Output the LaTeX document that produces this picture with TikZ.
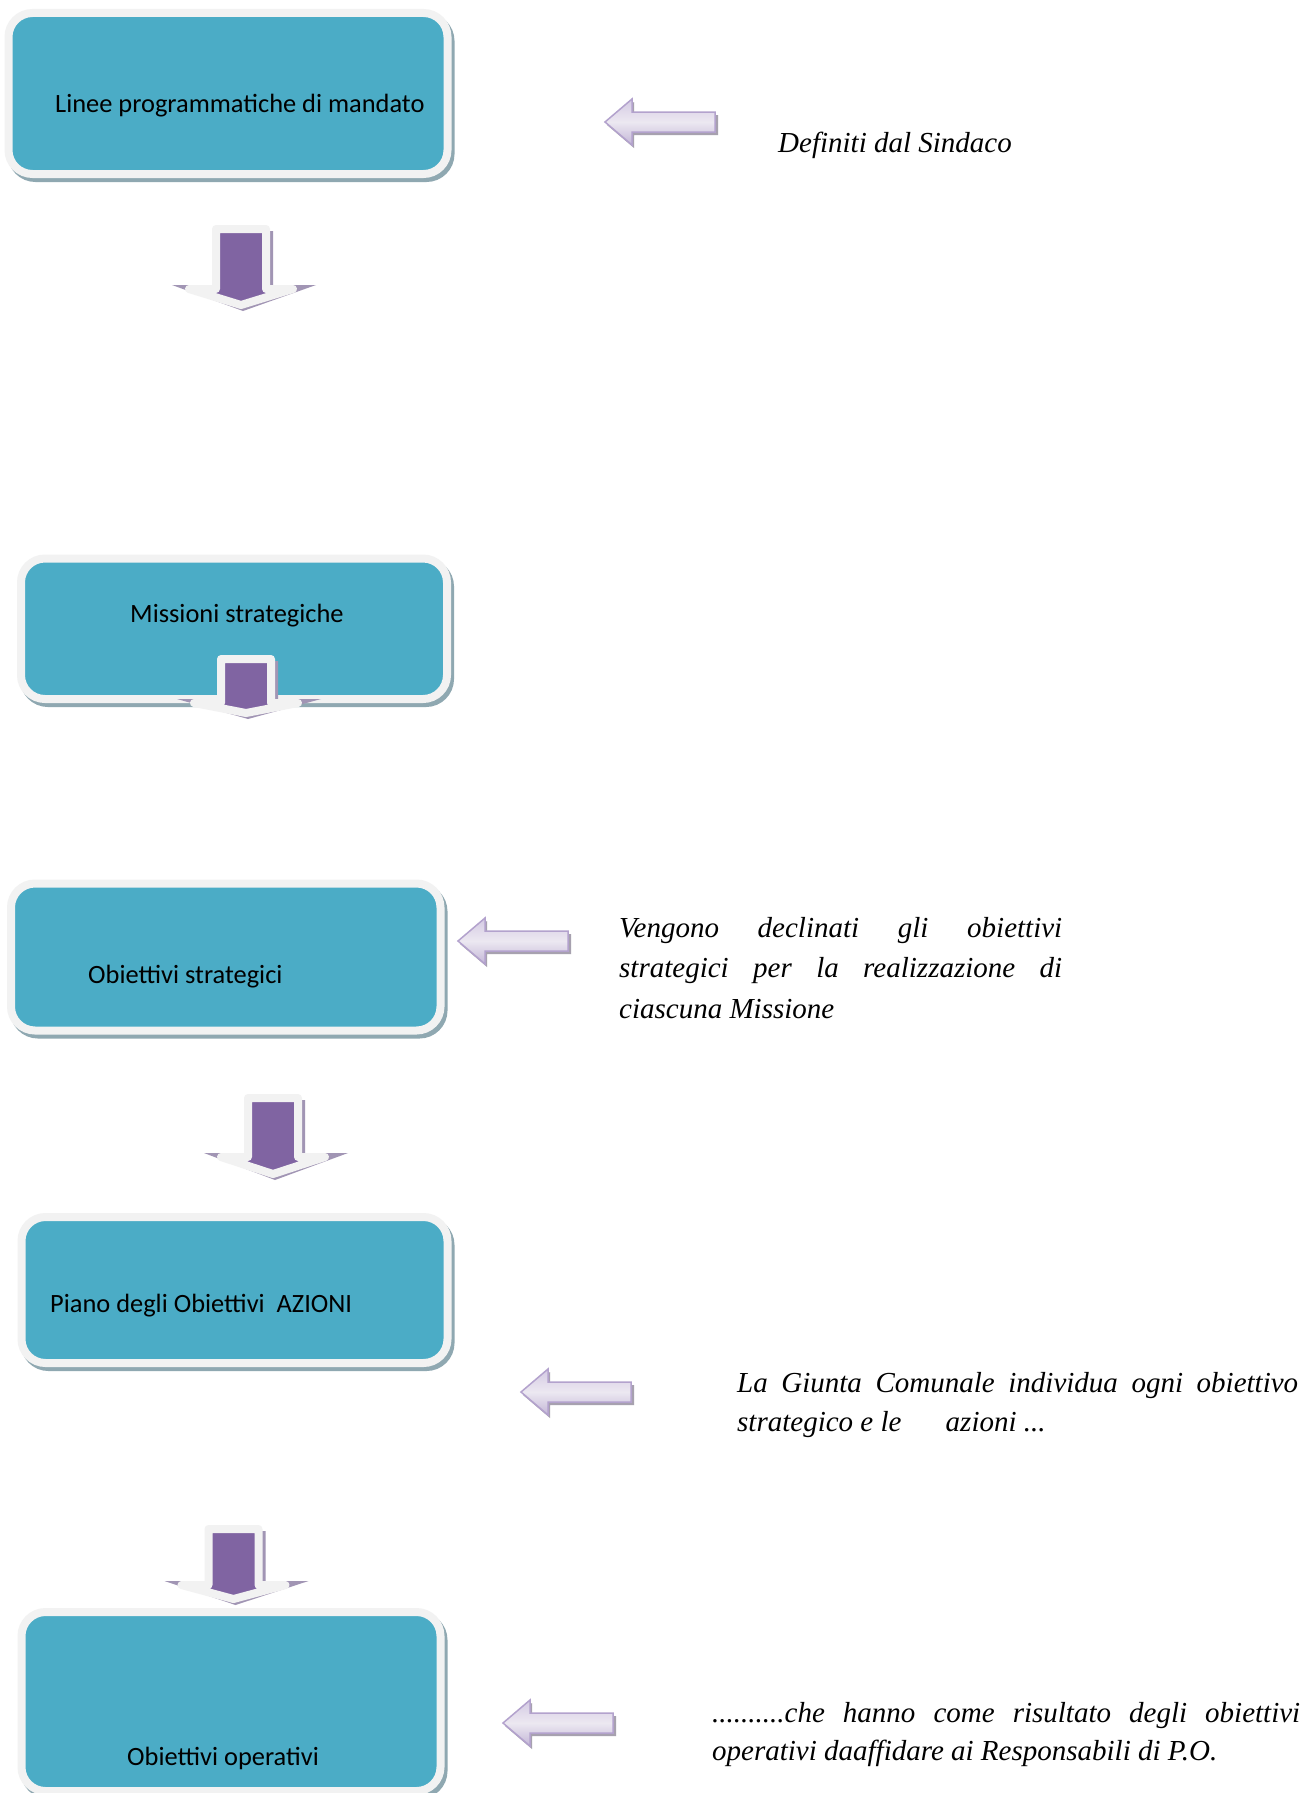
\documentclass[tikz,border=0pt]{standalone}
\usepackage{fontspec}
\setmainfont{Liberation Serif}
\newfontfamily\notefont{Liberation Serif}
\newfontfamily\boxfont{Carlito}
\definecolor{teal5}{HTML}{4BACC6}
\definecolor{rim}{HTML}{F2F2F2}
\definecolor{boxshadow}{HTML}{8FA8B1}
\definecolor{arrpurple}{HTML}{8064A2}
\definecolor{arrshadow}{HTML}{A195B4}
\definecolor{lavtop}{HTML}{D4CAE3}
\definecolor{lavmid}{HTML}{ECE8F1}
\definecolor{lavbot}{HTML}{C3B6D7}
\definecolor{lavline}{HTML}{B3A2CD}
\definecolor{lavshadow}{HTML}{A7A1AF}
\tikzset{
  panel/.style={fill=teal5, draw=rim, line width=8pt, rounded corners=24pt,
    rectangle, inner sep=0pt, outer sep=0pt, anchor=north west},
  panelshadow/.style={fill=boxshadow, draw=boxshadow, line width=8pt, rounded corners=24pt},
  boxtext/.style={anchor=base west, inner sep=0pt, font=\boxfont\fontsize{26.4}{30}\selectfont},
  note/.style={anchor=base west, inner sep=0pt, font=\notefont\fontsize{29}{40.5}\selectfont\itshape},
  downbody/.style={fill=arrpurple, draw=rim, line width=8pt, line join=round},
  leftbody/.style={draw=lavline, line width=1.5pt, line join=miter,
    top color=lavtop, bottom color=lavbot, middle color=lavmid},
}
% #1 centre x, #2 outer top of shaft, #3 outer top of wings, #4 outer tip
\newcommand\blockdown[4]{%
  \fill[arrshadow] (#1-22,#2+6) -- (#1+32,#2+6) -- (#1+32,#3) -- (#1+75,#3)
    -- (#1+2,#4+1) -- (#1-69,#3) -- (#1-22,#3) -- cycle;
  \path[downbody] (#1-25,#2+4) -- (#1+25,#2+4) -- (#1+25,#3+4) -- (#1+52,#3+4)
    -- (#1,#4-5) -- (#1-52,#3+4) -- (#1-25,#3+4) -- cycle;}
% #1 tip x, #2 tip y
\newcommand\blockleft[2]{%
  \fill[lavshadow] (#1+2,#2+3) -- (#1+29,#2-20) -- (#1+29,#2-7) -- (#1+113,#2-7)
    -- (#1+113,#2+13) -- (#1+29,#2+13) -- (#1+29,#2+26) -- cycle;
  \path[leftbody] (#1,#2) -- (#1+27,#2-23) -- (#1+27,#2-10) -- (#1+110,#2-10)
    -- (#1+110,#2+10) -- (#1+27,#2+10) -- (#1+27,#2+23) -- cycle;}
\begin{document}
\begin{tikzpicture}[x=1pt,y=-1pt]
\fill[white] (0,0) rectangle (1309,1793);
\useasboundingbox (0,0) rectangle (1309,1793);

% box shadows
\path[panelshadow] (11.5,17) rectangle (450.5,178);
\path[panelshadow] (24,562.5) rectangle (450,703);
\path[panelshadow] (14,887.5) rectangle (443.5,1034.5);
\path[panelshadow] (24.5,1221) rectangle (450.5,1367);
\path[panelshadow] (24.5,1616) rectangle (443.5,1795);

% boxes
\node[panel, minimum width=439pt, minimum height=161pt] (b1) at (8.5,13) {};
\node[panel, minimum width=426pt, minimum height=140.5pt] (b2) at (21,558.5) {};
\node[panel, minimum width=429.5pt, minimum height=147pt] (b3) at (11,883.5) {};
\node[panel, minimum width=426pt, minimum height=146pt] (b4) at (21.5,1217) {};
\node[panel, minimum width=419pt, minimum height=179pt] (b5) at (21.5,1612) {};

% box texts
\node[boxtext] (t1) at (55,112) {Linee programmatiche di mandato};
\node[boxtext] (t2) at (130,622) {Missioni strategiche};
\node[boxtext] (t3) at (88,983) {Obiettivi strategici};
\node[boxtext] (t4) at (50,1312) {Piano degli Obiettivi\ \ AZIONI};
\node[boxtext] (t5) at (127,1765) {Obiettivi operativi};

% down block arrows
\blockdown{241}{225}{285}{310}
\blockdown{246}{655}{699}{718}
\blockdown{273}{1094}{1153}{1179}
\blockdown{233.5}{1525}{1581}{1604}

% left block arrows
\blockleft{605}{122}
\blockleft{458}{941}
\blockleft{521}{1392}
\blockleft{503}{1723}

% notes
\node[note] (n1) at (778,152) {Definiti dal Sindaco};
\node[note] (n2) at (619,937) {\parbox[t]{443pt}{%
  \makebox[443pt][s]{Vengono declinati gli obiettivi}\\
  \makebox[443pt][s]{strategici per la realizzazione di}\\
  ciascuna Missione}};
\node[note] (n3) at (737,1392) {\parbox[t]{561pt}{%
  \makebox[561pt][s]{La Giunta Comunale individua ogni obiettivo}\\[-1.5pt]
  strategico e le\hspace{37pt} azioni ...}};
\node[note] (n4) at (712,1722) {\parbox[t]{588pt}{%
  \makebox[588pt][s]{..........che hanno come risultato degli obiettivi}\\[-2.5pt]
  operativi daaffidare ai Responsabili di P.O.}};
\end{tikzpicture}
\end{document}
